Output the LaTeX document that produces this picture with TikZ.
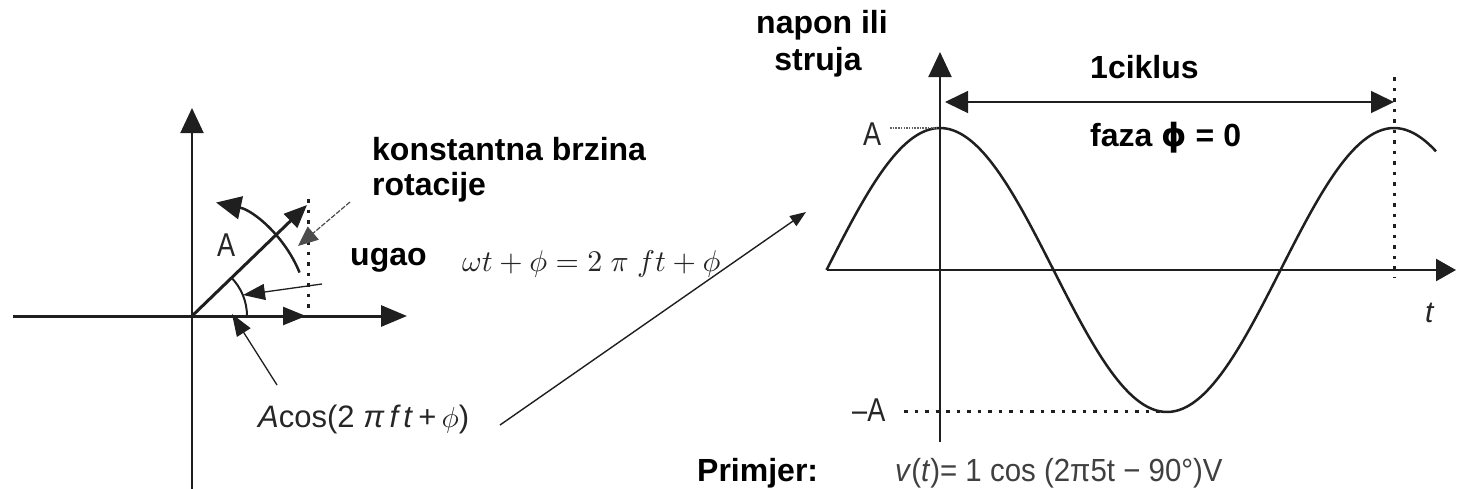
\documentclass[tikz,border=0pt]{standalone}
\usepackage{fontspec}
\newfontfamily\lsans{Liberation Sans}
\newfontfamily\dvs{DejaVu Sans}
\usetikzlibrary{arrows.meta}
\begin{document}
\begin{tikzpicture}[x=1pt,y=-1pt,
  ink/.style={draw=black!88},
  axthin/.style={ink, line width=2pt},
  axthick/.style={ink, line width=3pt},
  bigtip/.style={-{Triangle[length=25pt,width=23pt]}},
  dotl/.style={ink, line width=3pt, dash pattern=on 3.5pt off 7pt},
  finedot/.style={draw=black!60, line width=1.2pt, dash pattern=on 1.5pt off 1.2pt},
  pointer/.style={ink, line width=1.3pt, -{Triangle[length=22pt,width=16pt]}},
  bl/.style={font=\lsans\bfseries\fontsize{32}{36}\selectfont, inner sep=0pt, anchor=base west},
  sl/.style={font=\lsans\fontsize{33}{36}\selectfont, inner sep=0pt, anchor=base west, text=black!85},
  ]
\useasboundingbox (0,0) rectangle (1457,488);
\clip (0,0) rectangle (1457,488);

% ---------- left: phasor ----------
\coordinate (O1) at (192,316);
\coordinate (V1b) at (192,492);
\coordinate (V1t) at (192,108);
\coordinate (H1l) at (13,316);
\coordinate (H1r) at (407,316);
\coordinate (P) at (307,205);
\coordinate (Ptop) at (308,199);
\coordinate (Pfoot) at (308,316);
\coordinate (Proj) at (306,316);

\draw[axthin, bigtip] (V1b) -- (V1t);
\draw[axthick, -{Triangle[length=26pt,width=21pt]}] (H1l) -- (H1r);
\draw[dotl] (Ptop) -- (Pfoot);
\draw[axthick, -{Triangle[length=23pt,width=19pt]}] (O1) -- (P);
\draw[ink, line width=2.5pt, -{Triangle[length=23pt,width=18pt]}] (O1) -- (Proj);
% rotation arc
\draw[ink, line width=2.5pt, -{Triangle[length=25pt,width=23pt]}]
  ([shift={(-22:116)}]O1) arc[start angle=-22, end angle=-78, radius=116];
% angle arc
\draw[ink, line width=2pt] ([shift={(0:55)}]O1) arc[start angle=0, end angle=-45, radius=55];

\coordinate (angS) at (322,284);
\coordinate (angT) at (243,295);
\draw[pointer] (angS) -- (angT);
\coordinate (rotS) at (350,202);
\coordinate (rotT) at (298,246);
\draw[draw=black!70, line width=1.2pt, dash pattern=on 5pt off 1.5pt, -{Triangle[length=20pt,width=17pt]}] (rotS) -- (rotT);
\coordinate (acS) at (277,385);
\coordinate (acT) at (232,314);
\draw[pointer] (acS) -- (acT);

\node[sl] (Alab) at (217,256) {\scalebox{0.82}[1]{A}};
\node[bl] (konst) at (372,160) {konstantna brzina};
\node[bl] (rot) at (372,195) {rotacije};
\node[bl] (ugao) at (350,265) {ugao};
\node[inner sep=0pt, anchor=base west, text=black!85] (omega) at (462,271)
  {\scalebox{3.0}{$\omega t+\phi=2\;\pi\;ft+\phi$}};
\node[sl, font=\lsans\fontsize{31}{34}\selectfont] (acos) at (258,427)
  {\textit{A}cos(2\;\textit{π}\,\textit{f\,t}\,+\,{\fontsize{10}{12}\selectfont\scalebox{2.9}{$\phi$}})};

\coordinate (bigS) at (500,425);
\coordinate (bigT) at (806,212);
\draw[ink, line width=1.4pt, -{Triangle[length=16pt,width=12pt]}] (bigS) -- (bigT);

% ---------- right: waveform ----------
\coordinate (O2) at (940,270);
\coordinate (V2b) at (940,442);
\coordinate (V2t) at (940,52);
\coordinate (H2l) at (827,270);
\coordinate (H2r) at (1456,270);
\draw[axthin, bigtip] (V2b) -- (V2t);
\draw[ink, line width=2.5pt, -{Triangle[length=20pt,width=22pt]}] (H2l) -- (H2r);
\draw[ink, line width=2.5pt, line join=round]
  plot[domain=826.5:1436, samples=160, smooth] (\x, {270-142*cos((\x-940)/454*360)});

\coordinate (Adl) at (890,128);
\coordinate (Adr) at (938,128);
\draw[finedot] (Adl) -- (Adr);
\coordinate (mAl) at (904,411);
\coordinate (mAr) at (1166,411);
\draw[dotl] (mAl) -- (mAr);
\coordinate (Ct) at (1394,77);
\coordinate (Cb) at (1394,278);
\draw[dotl] (Ct) -- (Cb);
\coordinate (cycL) at (945,102);
\coordinate (cycR) at (1394,102);
\draw[ink, line width=1.5pt, {Triangle[length=23pt,width=22pt]}-{Triangle[length=23pt,width=22pt]}] (cycL) -- (cycR);

\node[sl] (Ar) at (863,145) {\scalebox{0.82}[1]{A}};
\node[sl] (mAr2) at (852,421) {\scalebox{0.82}[1]{–A}};
\node[bl, anchor=base] (nap1) at (822,33) {napon ili};
\node[bl, anchor=base] (nap2) at (818,70) {struja};
\node[bl] (cyc) at (1090,78) {1ciklus};
\node[bl] (faza) at (1090,146) {faza {\dvs\bfseries ϕ} = 0};
\node[sl, font=\lsans\itshape\fontsize{30}{34}\selectfont] (tlab) at (1425,322) {t};

\node[bl] (prim) at (697,481) {Primjer:};
\node[sl, font=\lsans\fontsize{32}{36}\selectfont, text=black!75] (ex) at (895,481)
  {\scalebox{0.92}[1]{\textit{v}(\textit{t})= 1 cos (2π5t − 90°)V}};
\end{tikzpicture}
\end{document}
